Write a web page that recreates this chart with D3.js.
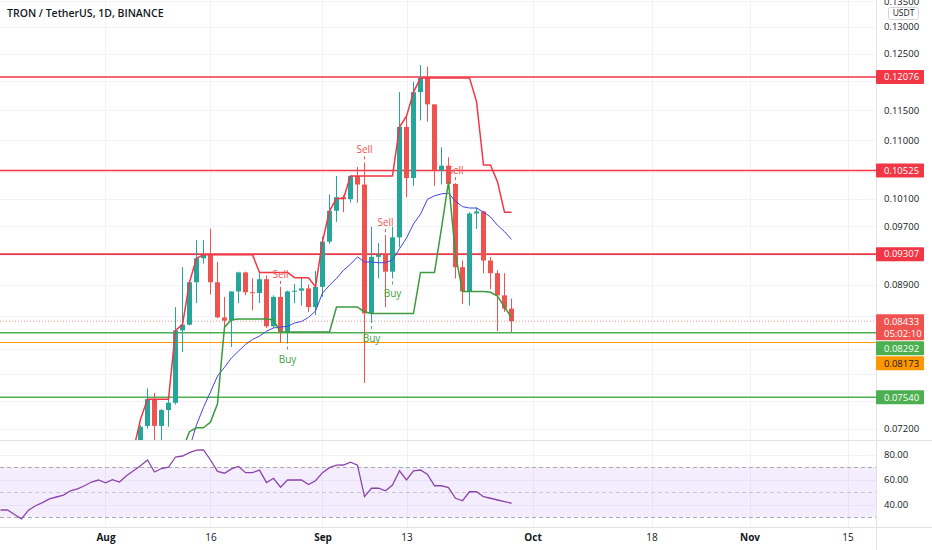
<!DOCTYPE html>
<html>
<head>
<meta charset="utf-8">
<script src="https://cdn.jsdelivr.net/npm/d3@7"></script>
<style>
  body { margin: 0; background: #fff; }
  svg { display: block; font-family: "Open Sans", "DejaVu Sans", sans-serif; }
</style>
</head>
<body>
<div id="chart"></div>
<script>
// ---- data (TRX/USDT daily, 2021) ----
var candleStart = "2021-08-06";
var opens  = [0.0700,0.0723,0.0752,0.0723,0.0740,0.0748,0.0832,0.0839,0.0893,0.0925,0.0930,0.0893,0.0848,0.0844,0.0881,0.0906,0.0880,0.0879,0.0897,0.0837,0.0874,0.0830,0.0881,0.0882,0.0885,0.0861,0.0887,0.0948,0.0992,0.1012,0.1009,0.1044,0.1031,0.0853,0.0927,0.0930,0.0907,0.0954,0.1122,0.1041,0.1181,0.1206,0.1160,0.1053,0.1060,0.1032,0.0913,0.0881,0.0988,0.0991,0.0922,0.0905,0.0876,0.0859];
var highs  = [0.0724,0.0764,0.0759,0.0741,0.0752,0.0861,0.0913,0.0895,0.0950,0.0950,0.0966,0.0920,0.0874,0.0881,0.0907,0.0907,0.0898,0.0905,0.0902,0.0876,0.0887,0.0882,0.0891,0.0899,0.0890,0.0908,0.0955,0.1016,0.1044,0.1015,0.1045,0.1058,0.1065,0.0969,0.0946,0.0957,0.0969,0.1181,0.1140,0.1199,0.1229,0.1226,0.1160,0.1089,0.1073,0.1033,0.0922,0.0990,0.0997,0.0992,0.0927,0.0909,0.0905,0.0872];
var lows   = [0.0690,0.0720,0.0706,0.0706,0.0722,0.0746,0.0806,0.0838,0.0866,0.0918,0.0877,0.0847,0.0831,0.0812,0.0866,0.0876,0.0857,0.0866,0.0835,0.0835,0.0817,0.0816,0.0866,0.0863,0.0855,0.0851,0.0874,0.0945,0.0976,0.0990,0.1004,0.1004,0.0770,0.0841,0.0898,0.0861,0.0898,0.0940,0.1012,0.1029,0.1133,0.1131,0.1029,0.1031,0.1031,0.0898,0.0865,0.0863,0.0966,0.0905,0.0884,0.0831,0.0855,0.0830];
var closes = [0.0722,0.0752,0.0723,0.0740,0.0748,0.0832,0.0839,0.0893,0.0925,0.0930,0.0893,0.0848,0.0844,0.0881,0.0906,0.0880,0.0879,0.0897,0.0837,0.0874,0.0830,0.0881,0.0882,0.0885,0.0861,0.0887,0.0948,0.0992,0.1012,0.1009,0.1044,0.1031,0.0853,0.0927,0.0930,0.0907,0.0954,0.1122,0.1041,0.1181,0.1206,0.1160,0.1053,0.1060,0.1032,0.0913,0.0881,0.0988,0.0991,0.0922,0.0905,0.0876,0.0859,0.08433];

// trailing stop lines and moving average
var upperStart = "2021-08-05";
var upperTrail = [0.0698,0.0730,0.0752,0.0752,0.0752,0.0752,0.0832,0.0839,0.0893,0.0925,0.0930,0.0930,0.0930,0.0930,0.0930,0.0930,0.0930,0.0930,0.0906,0.0906,0.0906,0.0906,0.0906,0.0899,0.0899,0.0899,0.0887,0.0948,0.0992,0.1010,0.1010,0.1044,0.1044,0.1044,0.1044,0.1044,0.1044,0.1044,0.1122,0.1140,0.1181,0.1206,0.1206,0.1206,0.1206,0.1206,0.1206,0.1206,0.1206,0.1165,0.1061,0.1061,0.1035,0.0990,0.0990];
var lowerStart = "2021-08-12";
var lowerTrail = [0.0698,0.0717,0.0721,0.0721,0.0727,0.0747,0.0836,0.0845,0.0846,0.0846,0.0846,0.0846,0.0846,0.0845,0.0830,0.0830,0.0830,0.0830,0.0830,0.0830,0.0830,0.0830,0.0861,0.0861,0.0861,0.0861,0.0855,0.0853,0.0853,0.0853,0.0853,0.0853,0.0853,0.0853,0.0906,0.0906,0.0906,0.0967,0.1035,0.0930,0.0881,0.0881,0.0881,0.0881,0.0880,0.0875,0.0861,0.0848];
var maStart = "2021-08-13";
var maLine = [0.0700,0.0724,0.0743,0.0760,0.0778,0.0788,0.0799,0.0807,0.0815,0.0821,0.0825,0.0831,0.0835,0.0836,0.0837,0.0841,0.0843,0.0848,0.0856,0.0879,0.0889,0.0898,0.0909,0.0917,0.0927,0.0920,0.0920,0.0919,0.0919,0.0923,0.0938,0.0953,0.0973,0.0987,0.1009,0.1014,0.1017,0.1018,0.1006,0.0998,0.0996,0.0996,0.0990,0.0983,0.0971,0.0962,0.0951];

// RSI
var rsiStart = "2021-07-17";
var rsiValues = [35.6,35.6,32,28.5,35.5,39,41.5,44.5,46,47.5,51,52.5,55,58,59.6,57.3,59.8,58,63,67,71,75.6,66,68.8,69.8,78,78.8,81.5,83.5,83.6,75.6,66.5,65,68.5,70.5,65.5,65.5,67.5,57.5,61,53.8,59.6,59.6,59.6,56,59,65.5,69.5,71.5,71.6,73.8,71.5,46.3,53,53,51,55.6,67,59.6,67,67.6,64,55,55,53.5,45,43,50.2,50.2,46.2,45,43.6,42.3,41];

// signals
var sellDates = ["2021-08-26","2021-09-07","2021-09-10","2021-09-20"];
var buyDates  = ["2021-08-27","2021-09-08","2021-09-11"];

// horizontal levels
var resistanceLevels = [0.12076, 0.10525, 0.09307];
var supportLevels = [0.08292, 0.07540];
var pivotLevels = [0.08173];
var lastPrice = 0.08433;
var countdown = "05:02:10";

// axes
var priceTicks = [0.135,0.130,0.125,0.120,0.115,0.110,0.105,0.101,0.097,0.093,0.089,0.085,0.081,0.078,0.075,0.072];
var rsiTicks = [80, 60, 40];
var timeTickDates = ["2021-08-01","2021-08-16","2021-09-01","2021-09-13","2021-10-01","2021-10-18","2021-11-01","2021-11-15"];
var timeTickLabels = ["Aug","16","Sep","13","Oct","18","Nov","15"];

// ---- layout ----
var W = 932, H = 550;
var plotRight = 876;
var priceTop = 0, priceBottom = 440;
var rsiTop = 441, rsiBottom = 527;

var DAY = 864e5;
function parse(s) { return new Date(s + "T00:00:00Z"); }
function days(start, n) {
  var t0 = parse(start).getTime();
  return d3.range(n).map(function(i) { return new Date(t0 + i * DAY); });
}

var x = d3.scaleUtc()
  .domain([parse("2021-07-17"), parse("2021-11-29")])
  .range([0.5, 945.5]);

var y = d3.scaleLog()
  .domain([0.135, 0.072])
  .range([1.2, 428.7]);

var yr = d3.scaleLinear()
  .domain([30, 70])
  .range([517, 467]);

var svg = d3.select("#chart").append("svg")
  .attr("width", W)
  .attr("height", H);

var defs = svg.append("defs");
defs.append("clipPath").attr("id", "clipPrice")
  .append("rect").attr("x", 0).attr("y", priceTop).attr("width", plotRight).attr("height", priceBottom - priceTop);
defs.append("clipPath").attr("id", "clipRsi")
  .append("rect").attr("x", 0).attr("y", rsiTop).attr("width", plotRight).attr("height", rsiBottom - rsiTop);

// grid
var grid = svg.append("g");
grid.selectAll("line.v")
  .data(timeTickDates)
  .enter().append("line")
  .attr("x1", d => Math.round(x(parse(d))) + 0.5)
  .attr("x2", d => Math.round(x(parse(d))) + 0.5)
  .attr("y1", 0).attr("y2", rsiBottom)
  .attr("stroke", "#f0f3fa");
grid.selectAll("line.h")
  .data(priceTicks)
  .enter().append("line")
  .attr("x1", 0).attr("x2", plotRight)
  .attr("y1", d => Math.round(y(d)) + 0.5)
  .attr("y2", d => Math.round(y(d)) + 0.5)
  .attr("stroke", "#f0f3fa");
grid.selectAll("line.r")
  .data(rsiTicks)
  .enter().append("line")
  .attr("x1", 0).attr("x2", plotRight)
  .attr("y1", d => Math.round(yr(d)) + 0.5)
  .attr("y2", d => Math.round(yr(d)) + 0.5)
  .attr("stroke", "#f0f3fa");

// ---- price pane ----
var price = svg.append("g").attr("clip-path", "url(#clipPrice)");

var candles = days(candleStart, closes.length).map(function(d, i) {
  return { date: d, o: opens[i], h: highs[i], l: lows[i], c: closes[i] };
});

// level lines
function levelLine(values, color, width) {
  price.selectAll(null)
    .data(values)
    .enter().append("line")
    .attr("x1", 0).attr("x2", plotRight)
    .attr("y1", d => y(d)).attr("y2", d => y(d))
    .attr("stroke", color)
    .attr("stroke-width", width);
}
levelLine(pivotLevels, "#ff9800", 1);
levelLine(supportLevels, "#4caf50", 1.5);
levelLine(resistanceLevels, "#f23645", 1.6);

// last price dotted line
price.append("line")
  .attr("x1", 0).attr("x2", plotRight)
  .attr("y1", y(lastPrice)).attr("y2", y(lastPrice))
  .attr("stroke", "#ef5350")
  .attr("stroke-opacity", 0.6)
  .attr("stroke-dasharray", "1,2");

// candles
var cg = price.append("g");
cg.selectAll("line")
  .data(candles)
  .enter().append("line")
  .attr("x1", d => x(d.date)).attr("x2", d => x(d.date))
  .attr("y1", d => y(d.h)).attr("y2", d => y(d.l))
  .attr("stroke", d => d.c >= d.o ? "#26a69a" : "#ef5350");
cg.selectAll("rect")
  .data(candles)
  .enter().append("rect")
  .attr("x", d => x(d.date) - 2.5)
  .attr("width", 5)
  .attr("y", d => Math.min(y(d.o), y(d.c)))
  .attr("height", d => Math.max(1, Math.abs(y(d.o) - y(d.c))))
  .attr("fill", d => d.c >= d.o ? "#26a69a" : "#ef5350");

// trail lines and MA
function seriesLine(start, values, color, width) {
  var pts = days(start, values.length).map((d, i) => [d, values[i]]);
  price.append("path")
    .datum(pts)
    .attr("fill", "none")
    .attr("stroke", color)
    .attr("stroke-width", width)
    .attr("stroke-linejoin", "round")
    .attr("d", d3.line().x(p => x(p[0])).y(p => y(p[1])));
}
seriesLine(maStart, maLine, "#4343e6", 1);
seriesLine(lowerStart, lowerTrail, "#3c9a3f", 1.5);
seriesLine(upperStart, upperTrail, "#f23645", 1.5);

// buy / sell labels
var candleByDate = {};
candles.forEach(c => { candleByDate[c.date.getTime()] = c; });

sellDates.forEach(function(s) {
  var c = candleByDate[parse(s).getTime()];
  var cx = x(c.date), top = y(c.h);
  price.append("line")
    .attr("x1", cx).attr("x2", cx)
    .attr("y1", top - 6).attr("y2", top - 3)
    .attr("stroke", "#ef5350").attr("stroke-width", 1);
  price.append("text")
    .attr("x", cx).attr("y", top - 9)
    .attr("text-anchor", "middle")
    .attr("font-size", "10px")
    .attr("fill", "#ef5350")
    .text("Sell");
});
buyDates.forEach(function(s) {
  var c = candleByDate[parse(s).getTime()];
  var cx = x(c.date), bot = y(c.l);
  price.append("line")
    .attr("x1", cx).attr("x2", cx)
    .attr("y1", bot + 3).attr("y2", bot + 6)
    .attr("stroke", "#4caf50").attr("stroke-width", 1);
  price.append("text")
    .attr("x", cx).attr("y", bot + 19)
    .attr("text-anchor", "middle")
    .attr("font-size", "10px")
    .attr("fill", "#43a047")
    .text("Buy");
});

// ---- RSI pane ----
var rsi = svg.append("g").attr("clip-path", "url(#clipRsi)");
rsi.append("rect")
  .attr("x", 0).attr("width", plotRight)
  .attr("y", yr(70)).attr("height", yr(30) - yr(70))
  .attr("fill", "rgba(149, 76, 233, 0.1)");
rsi.selectAll("line.band")
  .data([70, 50, 30])
  .enter().append("line")
  .attr("x1", 0).attr("x2", plotRight)
  .attr("y1", d => Math.round(yr(d)) + 0.5)
  .attr("y2", d => Math.round(yr(d)) + 0.5)
  .attr("stroke", "#9598a1")
  .attr("stroke-opacity", d => d === 50 ? 0.45 : 0.8)
  .attr("stroke-dasharray", "4,3");

var rsiPts = days(rsiStart, rsiValues.length).map((d, i) => [d, rsiValues[i]]);
rsi.append("path")
  .datum(rsiPts)
  .attr("fill", "none")
  .attr("stroke", "#8b45a8")
  .attr("stroke-width", 1.3)
  .attr("d", d3.line().x(p => x(p[0])).y(p => yr(p[1])));

// ---- frame ----
svg.append("line").attr("x1", plotRight + 0.5).attr("x2", plotRight + 0.5)
  .attr("y1", 0).attr("y2", H).attr("stroke", "#e0e3eb");
svg.append("line").attr("x1", 0).attr("x2", W)
  .attr("y1", priceBottom + 0.5).attr("y2", priceBottom + 0.5).attr("stroke", "#e0e3eb");
svg.append("line").attr("x1", 0).attr("x2", W)
  .attr("y1", rsiBottom + 0.5).attr("y2", rsiBottom + 0.5).attr("stroke", "#e0e3eb");

// ---- price labels on the axis (placed first so ticks can avoid them) ----
var labels = [];
resistanceLevels.forEach(v => labels.push({ v: v, bg: "#f23645", fg: "#fff", lines: [d3.format(".5f")(v)] }));
supportLevels.forEach(v => labels.push({ v: v, bg: "#4caf50", fg: "#fff", lines: [d3.format(".5f")(v)] }));
pivotLevels.forEach(v => labels.push({ v: v, bg: "#ff9800", fg: "#131722", lines: [d3.format(".5f")(v)] }));
labels.push({ v: lastPrice, bg: "#ef5350", fg: "#fff", lines: [d3.format(".5f")(lastPrice), countdown] });
labels.sort((a, b) => y(a.v) - y(b.v));
var prevBottom = -100;
labels.forEach(function(l) {
  l.h = l.lines.length === 1 ? 14 : 26;
  l.top = Math.max(y(l.v) - 7, prevBottom + 1);
  prevBottom = l.top + l.h;
});

// hide tick texts that would sit under a label box
function freeTick(v) {
  var ty = y(v);
  return !labels.some(l => ty + 6 > l.top && ty - 6 < l.top + l.h);
}

// ---- axes ----
var priceAxis = svg.append("g")
  .attr("transform", `translate(${plotRight}, 0)`)
  .call(d3.axisRight(y).tickValues(priceTicks.filter(freeTick)).tickFormat(d3.format(".5f")).tickSize(0).tickPadding(8));
var rsiAxis = svg.append("g")
  .attr("transform", `translate(${plotRight}, 0)`)
  .call(d3.axisRight(yr).tickValues(rsiTicks).tickFormat(d3.format(".2f")).tickSize(0).tickPadding(8));
[priceAxis, rsiAxis].forEach(function(a) {
  a.select(".domain").remove();
  a.selectAll("text").attr("font-size", "9.5px").attr("fill", "#131722")
    .attr("font-family", "'Open Sans', sans-serif");
});

var timeAxis = svg.append("g")
  .attr("transform", `translate(0, ${rsiBottom})`)
  .call(d3.axisBottom(x).tickValues(timeTickDates.map(parse))
    .tickFormat((d, i) => timeTickLabels[i]).tickSize(0).tickPadding(7));
timeAxis.select(".domain").remove();
timeAxis.selectAll("text")
  .attr("font-size", "10px")
  .attr("fill", "#131722")
  .attr("font-family", "'Open Sans', sans-serif")
  .attr("font-weight", (d, i) => isNaN(+timeTickLabels[i]) ? 700 : 400);

var lab = svg.append("g");
labels.forEach(function(l) {
  lab.append("rect")
    .attr("x", plotRight).attr("y", l.top)
    .attr("width", 48).attr("height", l.h)
    .attr("rx", 1)
    .attr("fill", l.bg);
  l.lines.forEach(function(t, j) {
    lab.append("text")
      .attr("x", plotRight + 8).attr("y", l.top + 7 + j * 12)
      .attr("dy", "0.35em")
      .attr("font-size", "9.5px")
      .attr("fill", l.fg)
      .text(t);
  });
});

// currency badge
svg.append("rect")
  .attr("x", 888.5).attr("y", 7.5).attr("width", 30).attr("height", 12)
  .attr("rx", 2)
  .attr("fill", "#fff").attr("stroke", "#d1d4dc");
svg.append("text")
  .attr("x", 903.5).attr("y", 13.5).attr("dy", "0.35em")
  .attr("text-anchor", "middle")
  .attr("font-size", "8.5px").attr("fill", "#131722")
  .text("USDT");

// title
svg.append("text")
  .attr("x", 7).attr("y", 17)
  .attr("font-size", "10.5px")
  .attr("font-weight", 600)
  .attr("fill", "#131722")
  .text("TRON / TetherUS, 1D, BINANCE");
</script>
</body>
</html>
